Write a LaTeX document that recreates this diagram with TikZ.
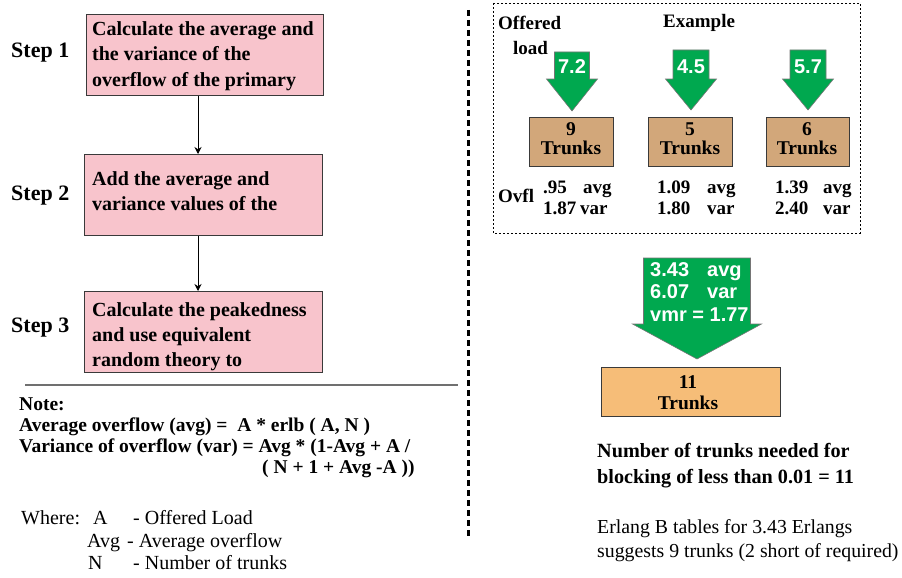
\documentclass[tikz,border=0pt]{standalone}
\usepackage{fontspec}
\setmainfont{Liberation Serif}
\newfontfamily\arrowfont{Liberation Sans}
\usetikzlibrary{arrows.meta}

\definecolor{stepfill}{HTML}{F8C4CC}
\definecolor{trunkfill}{HTML}{D2A77A}
\definecolor{totalfill}{HTML}{F6BD78}
\definecolor{loadgreen}{HTML}{00A84F}
\definecolor{edgegray}{HTML}{3A3A3A}
\definecolor{rulegray}{HTML}{707070}

% down-pointing block arrow: centre x, top y, head y, tip y, shaft half width, head half width
\newcommand\greenarrow[6]{%
  \filldraw[blockarrow] ({#1-#5},#2) -- ({#1+#5},#2) -- ({#1+#5},#3) -- ({#1+#6},#3)
    -- (#1,#4) -- ({#1-#6},#3) -- ({#1-#5},#3) -- cycle;}

\tikzset{
  blockarrow/.style={fill=loadgreen, draw=edgegray!70, line width=0.6pt, line join=miter},
  stepbox/.style={draw=edgegray, fill=stepfill, line width=0.9pt, inner sep=0pt, anchor=north west},
  trunkbox/.style={draw=edgegray, fill=trunkfill, line width=0.9pt, inner sep=0pt, anchor=north west},
  totalbox/.style={draw=edgegray, fill=totalfill, line width=0.9pt, inner sep=0pt, anchor=north west},
  boxtxt/.style={anchor=base west, inner sep=0pt, font=\bfseries\fontsize{20}{24}\selectfont},
  steplabel/.style={anchor=base west, inner sep=0pt, font=\bfseries\fontsize{22}{26}\selectfont},
  notetxt/.style={anchor=base west, inner sep=0pt, font=\bfseries\fontsize{19.5}{23}\selectfont},
  resulttxt/.style={anchor=base west, inner sep=0pt, font=\bfseries\fontsize{20.2}{24}\selectfont},
  wheretxt/.style={anchor=base west, inner sep=0pt, font=\fontsize{20}{24}\selectfont},
  exbold/.style={anchor=base west, inner sep=0pt, font=\bfseries\fontsize{19}{23}\selectfont},
  trunktxt/.style={anchor=base, inner sep=0pt, font=\bfseries\fontsize{19.5}{23}\selectfont},
  loadtxt/.style={anchor=base, inner sep=0pt, text=white, font=\arrowfont\bfseries\fontsize{20}{24}\selectfont},
  sumtxt/.style={anchor=base west, inner sep=0pt, text=white, font=\arrowfont\bfseries\fontsize{20}{24}\selectfont},
  plaintxt/.style={anchor=base west, inner sep=0pt, font=\fontsize{19.8}{23}\selectfont},
  flow/.style={-{Stealth[length=7pt,width=7pt]}, line width=0.8pt},
}

\begin{document}
\begin{tikzpicture}[x=1pt, y=-1pt]
\useasboundingbox (0,0) rectangle (902,578);

% ---------- procedure on the left ----------
\node[steplabel] (l1) at (11,58) {Step 1};
\node[steplabel] (l2) at (11,200) {Step 2};
\node[steplabel] (l3) at (11,332) {Step 3};

\node[stepbox, minimum width=237pt, minimum height=81pt] (s1) at (86,14) {};
\node[stepbox, minimum width=238pt, minimum height=81pt] (s2) at (84,154) {};
\node[stepbox, minimum width=238pt, minimum height=81pt] (s3) at (84,291) {};

\node[boxtxt] (s1a) at (92,36) {Calculate the average and};
\node[boxtxt] (s1b) at (92,61) {the variance of the};
\node[boxtxt] (s1c) at (92,86) {overflow of the primary};
\node[boxtxt] (s2a) at (92,185) {Add the average and};
\node[boxtxt] (s2b) at (92,210) {variance values of the};
\node[boxtxt] (s3a) at (92,316) {Calculate the peakedness};
\node[boxtxt] (s3b) at (92,341) {and use equivalent};
\node[boxtxt] (s3c) at (92,366) {random theory to};

\coordinate (flowx) at (198,0);
\draw[flow] (s1.south -| flowx) -- (s2.north -| flowx);
\draw[flow] (s2.south -| flowx) -- (s3.north -| flowx);

% ---------- note ----------
\coordinate (ruleL) at (25,385);
\coordinate (ruleR) at (458,385);
\draw[rulegray, line width=2pt] (ruleL) -- (ruleR);

\node[notetxt] (n0) at (19,410) {Note:};
\node[notetxt] (n1) at (19,431) {Average overflow (avg) = \ A * erlb ( A, N )};
\node[notetxt] (n2) at (19,452) {Variance of overflow (var) = Avg * (1-Avg + A /};
\node[notetxt] (n3) at (262,473) {( N + 1 + Avg -A ))};

\node[wheretxt] (w0) at (21,524) {Where:};
\node[wheretxt] (w1) at (93,524) {A};
\node[wheretxt] (w2) at (133,524) {- Offered Load};
\node[wheretxt] (w3) at (87,547) {Avg};
\node[wheretxt] (w4) at (127,547) {- Average overflow};
\node[wheretxt] (w5) at (88,569) {N};
\node[wheretxt] (w6) at (133,569) {- Number of trunks};

% ---------- separator ----------
\coordinate (sepT) at (468,10);
\coordinate (sepB) at (468,538);
\draw[line width=3pt, dash pattern=on 6pt off 4pt] (sepT) -- (sepB);

% ---------- example ----------
\draw[line width=0.8pt, dash pattern=on 2pt off 2pt] (493,3) rectangle (860,233);

\node[exbold] (off1) at (498,30) {Offered};
\node[exbold] (off2) at (513,55) {load};
\node[exbold] (ex) at (663,28) {Example};

\greenarrow{572}{52}{79}{111}{17.5}{25.5}
\greenarrow{691}{50}{79}{110}{18}{25.5}
\greenarrow{808}{50}{79}{110}{18}{25.5}
\node[loadtxt] (a1) at (572,74) {7.2};
\node[loadtxt] (a2) at (691,74) {4.5};
\node[loadtxt] (a3) at (808,74) {5.7};

\node[trunkbox, minimum width=84pt, minimum height=49pt] (t1) at (529,117) {};
\node[trunkbox, minimum width=84pt, minimum height=49pt] (t2) at (648,117) {};
\node[trunkbox, minimum width=83pt, minimum height=49pt] (t3) at (766,117) {};
\node[trunktxt] (t1a) at (571,135) {9};
\node[trunktxt] (t1b) at (571,154) {Trunks};
\node[trunktxt] (t2a) at (690,135) {5};
\node[trunktxt] (t2b) at (690,154) {Trunks};
\node[trunktxt] (t3a) at (807,135) {6};
\node[trunktxt] (t3b) at (807,154) {Trunks};

\node[exbold] (ov) at (498,202) {Ovfl};
\node[exbold] (o1a) at (543,193) {.95};
\node[exbold] (o1b) at (583,193) {avg};
\node[exbold] (o1c) at (543,214) {1.87};
\node[exbold] (o1d) at (580,214) {var};
\node[exbold] (o2a) at (657,193) {1.09};
\node[exbold] (o2b) at (707,193) {avg};
\node[exbold] (o2c) at (657,214) {1.80};
\node[exbold] (o2d) at (707,214) {var};
\node[exbold] (o3a) at (775,193) {1.39};
\node[exbold] (o3b) at (823,193) {avg};
\node[exbold] (o3c) at (775,214) {2.40};
\node[exbold] (o3d) at (823,214) {var};

% ---------- combined overflow ----------
\greenarrow{697}{258}{324}{359}{53.5}{64.5}
\node[sumtxt] (m1) at (650,276) {3.43};
\node[sumtxt] (m2) at (707,276) {avg};
\node[sumtxt] (m3) at (650,298) {6.07};
\node[sumtxt] (m4) at (707,298) {var};
\node[sumtxt] (m5) at (650,321) {vmr = 1.77};

\node[totalbox, minimum width=179pt, minimum height=49pt] (tot) at (601,367) {};
\node[trunktxt] (tota) at (688,388) {11};
\node[trunktxt] (totb) at (688,409) {Trunks};

\node[resulttxt] (r1) at (597,457) {Number of trunks needed for};
\node[resulttxt] (r2) at (597,483) {blocking of less than 0.01 = 11};
\node[plaintxt] (r3) at (597,533) {Erlang B tables for 3.43 Erlangs};
\node[plaintxt] (r4) at (597,557) {suggests 9 trunks (2 short of required)};
\end{tikzpicture}
\end{document}
